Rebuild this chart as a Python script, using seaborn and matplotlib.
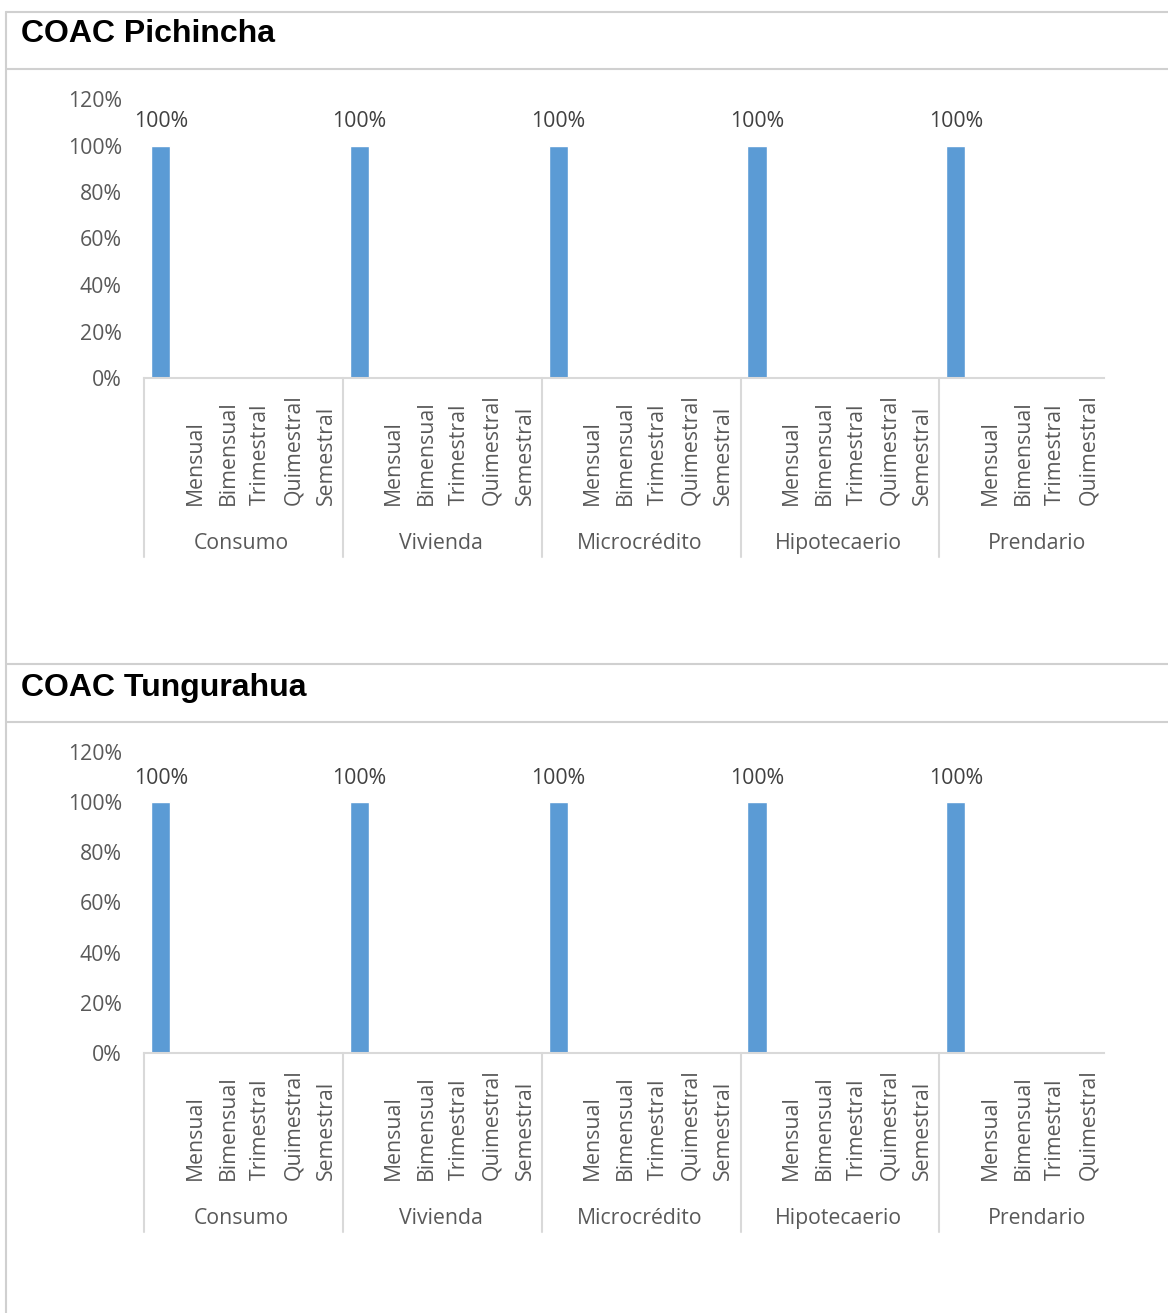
import pandas as pd
import matplotlib.pyplot as plt
from matplotlib.lines import Line2D
from matplotlib.ticker import PercentFormatter
import seaborn as sns

# Data
groups = ["Consumo", "Vivienda", "Microcrédito", "Hipotecaerio", "Prendario"]
periods = ["Mensual", "Bimensual", "Trimestral", "Quimestral", "Semestral"]
periods_per_group = [5, 5, 5, 5, 4]

pichincha_values = [1.0, 0, 0, 0, 0,
                    1.0, 0, 0, 0, 0,
                    1.0, 0, 0, 0, 0,
                    1.0, 0, 0, 0, 0,
                    1.0, 0, 0, 0]
tungurahua_values = [1.0, 0, 0, 0, 0,
                     1.0, 0, 0, 0, 0,
                     1.0, 0, 0, 0, 0,
                     1.0, 0, 0, 0, 0,
                     1.0, 0, 0, 0]

y_ticks = [0, 0.2, 0.4, 0.6, 0.8, 1.0, 1.2]

# Style
sns.set_theme(style="white")
plt.rcParams["font.family"] = ["Open Sans", "DejaVu Sans"]

W, H = 1168, 1313
BAR_COLOR = "#5B9BD5"
TEXT_COLOR = "#595959"
LINE_COLOR = "#D9D9D9"
BORDER_COLOR = "#D0D0D0"
FS = 15.3


def fx(px):
    return px / W


def fy(py):
    return 1 - py / H


def build_frame(values):
    rows = []
    pos = 0
    for g, n in zip(groups, periods_per_group):
        for p in periods[:n]:
            rows.append({"grupo": g, "periodo": p, "pos": pos, "valor": values[pos]})
            pos += 1
    return pd.DataFrame(rows)


def draw_chart(fig, values, top_px, zero_px):
    df = build_frame(values)
    ax = fig.add_axes([fx(144), fy(zero_px), (1104 - 144) / W, (zero_px - top_px) / H])
    sns.barplot(data=df, x="pos", y="valor", native_scale=True, width=0.48,
                color=BAR_COLOR, saturation=1, ax=ax)
    ax.set_xlim(-0.42, len(df) - 0.27)
    ax.set_ylim(0, 1.2)
    ax.set_yticks(y_ticks)
    ax.yaxis.set_major_formatter(PercentFormatter(1.0, decimals=0))
    ax.tick_params(axis="y", length=0, pad=16, labelsize=FS, labelcolor=TEXT_COLOR)
    ax.set_xticks([])
    ax.set_xlabel("")
    ax.set_ylabel("")
    for s in ["top", "right", "left"]:
        ax.spines[s].set_visible(False)
    ax.spines["bottom"].set_color(LINE_COLOR)
    ax.spines["bottom"].set_linewidth(1.5)

    # data labels
    for _, r in df.iterrows():
        if r["valor"] > 0:
            ax.annotate(f"{r['valor']:.0%}", xy=(r["pos"], r["valor"]),
                        xytext=(0, 17), textcoords="offset points",
                        ha="center", va="center", fontsize=FS, color="#404040")

    # multi-level category axis
    ax_h = zero_px - top_px
    start = 0
    for g, n in zip(groups, periods_per_group):
        edge = start - 0.5 + 0.09
        for j, p in enumerate(periods[:n]):
            ax.annotate(p, xy=(edge + 1.275 + 0.825 * j, 0),
                        xycoords=("data", "axes fraction"),
                        xytext=(0, -127 * 0.72), textcoords="offset points",
                        rotation=90, ha="center", va="bottom",
                        fontsize=FS, color=TEXT_COLOR)
        ax.annotate(g, xy=(edge + len(periods) / 2 - 0.05, 0),
                    xycoords=("data", "axes fraction"),
                    xytext=(0, -171 * 0.72), textcoords="offset points",
                    ha="center", va="baseline", fontsize=FS, color=TEXT_COLOR)
        sep = Line2D([edge, edge], [0, -179 / ax_h], color=LINE_COLOR, lw=1.5,
                     transform=ax.get_xaxis_transform(), clip_on=False)
        ax.add_line(sep)
        start += n
    return ax


fig = plt.figure(figsize=(W / 100, H / 100), dpi=100)

# document frame lines
for y in [12, 69, 664, 722]:
    fig.add_artist(Line2D([fx(6), fx(W)], [fy(y), fy(y)], color=BORDER_COLOR, lw=1.5))
fig.add_artist(Line2D([fx(6), fx(6)], [fy(12), fy(H)], color=BORDER_COLOR, lw=1.5))

fig.text(fx(21), fy(42), "COAC Pichincha", fontsize=23, fontweight="bold", color="black",
         family=["Liberation Sans", "DejaVu Sans"], va="baseline", ha="left")
fig.text(fx(21), fy(696), "COAC Tungurahua", fontsize=23, fontweight="bold", color="black",
         family=["Liberation Sans", "DejaVu Sans"], va="baseline", ha="left")

draw_chart(fig, pichincha_values, 99, 378)
draw_chart(fig, tungurahua_values, 752, 1053)

fig.savefig("out.png", dpi=100, facecolor="white")
